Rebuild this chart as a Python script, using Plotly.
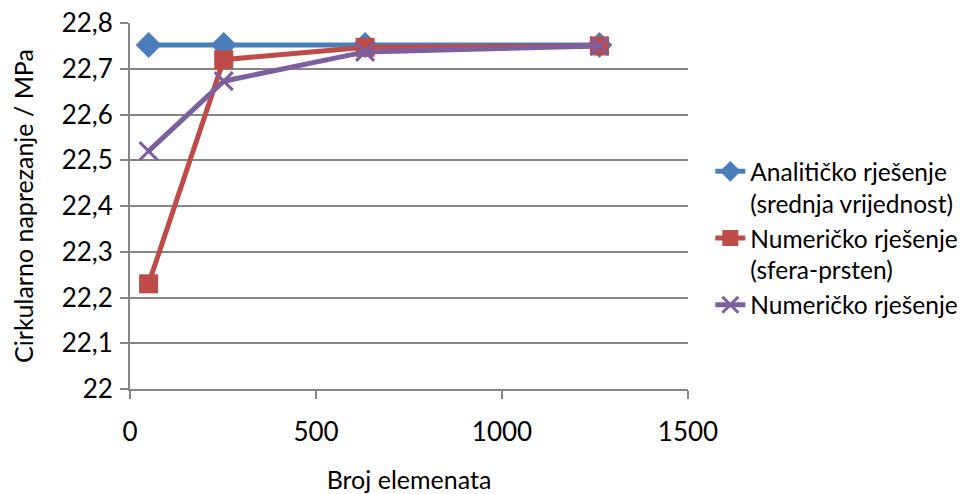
import plotly.graph_objects as go

x_vals = [50, 252, 632, 1262]
analiticko = [22.752, 22.752, 22.752, 22.752]
sfera_prsten = [22.23, 22.72, 22.747, 22.75]
numericko = [22.52, 22.673, 22.737, 22.75]

names = ["Analitičko rješenje<br>(srednja vrijednost)",
         "Numeričko rješenje<br>(sfera-prsten)",
         "Numeričko rješenje"]
colors = ["#4A7EBB", "#BE4B48", "#7D5FA0"]
symbols = ["diamond", "square", "x-thin"]
sizes = [20, 19, 18]

FONT = "Lato, Carlito, Calibri, sans-serif"

fig = go.Figure()
for ys, nm, c, s, sz in zip([analiticko, sfera_prsten, numericko], names, colors, symbols, sizes):
    marker = dict(symbol=s, size=sz, color=c)
    if s == "x-thin":
        marker["line"] = dict(color=c, width=3)
    fig.add_trace(go.Scatter(x=x_vals, y=ys, mode="lines+markers", name=nm,
                             line=dict(color=c, width=5), marker=marker))

fig.update_layout(
    width=967, height=494,
    margin=dict(l=122, r=287, t=15, b=113),
    paper_bgcolor="white", plot_bgcolor="white",
    separators=", ",
    font=dict(family=FONT, size=25, color="black"),
    legend=dict(x=1.04, y=0.656, xanchor="left", yanchor="top",
                valign="top", font=dict(size=24.5),
                bgcolor="rgba(0,0,0,0)"),
    xaxis=dict(range=[0, 1500], dtick=500, tick0=0, showgrid=False,
               showline=True, linecolor="#868686", linewidth=2,
               ticks="outside", ticklen=8, tickcolor="#868686", tickwidth=2,
               tickfont=dict(size=26), ticklabeloverflow="allow",
               ticklabelstandoff=11, zeroline=False, automargin=False,
               title=dict(text="Broj elemenata", standoff=25, font=dict(size=25))),
    yaxis=dict(range=[22, 22.8002], dtick=0.1, tick0=22, showgrid=True,
               gridcolor="#868686", gridwidth=1.5,
               showline=True, linecolor="#868686", linewidth=2,
               ticks="outside", ticklen=8, tickcolor="#868686", tickwidth=2,
               tickfont=dict(size=26), ticklabelstandoff=2,
               ticklabeloverflow="allow",
               zeroline=False, automargin=False,
               title=dict(text="Cirkularno naprezanje / MPa", standoff=24, font=dict(size=25))),
)

fig.write_html("out.html", config={"displayModeBar": False})
